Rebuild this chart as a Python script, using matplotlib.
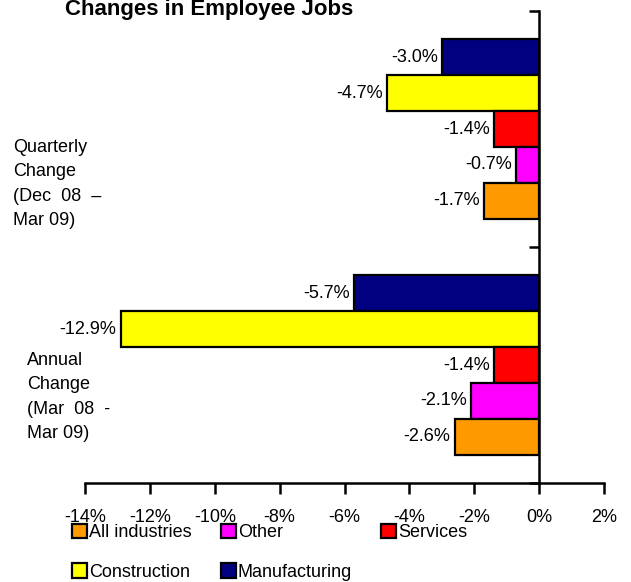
import numpy as np
import matplotlib.pyplot as plt
from matplotlib.patches import Patch

plt.rcParams['font.family'] = ['Liberation Sans', 'DejaVu Sans']

groups = ['Annual\nChange\n(Mar  08  -\nMar 09)', 'Quarterly\nChange\n(Dec  08  \u2013\nMar 09)']
series = ['Manufacturing', 'Construction', 'Services', 'Other', 'All industries']
colors = ['#000080', '#FFFF00', '#FF0000', '#FF00FF', '#FF9900']
# values per series: [annual, quarterly]
values = {
    'Manufacturing': [-5.7, -3.0],
    'Construction': [-12.9, -4.7],
    'Services': [-1.4, -1.4],
    'Other': [-2.1, -0.7],
    'All industries': [-2.6, -1.7],
}
xticks = np.arange(-14, 3, 2)

fig = plt.figure(figsize=(6.31, 5.82), dpi=100)
ax = fig.add_axes([85/631, 1-483/582, 519/631, 472/582])

h = 0.1525
y = np.arange(len(groups))
for i, (s, c) in enumerate(zip(series, colors)):
    off = (2 - i) * h
    ax.barh(y + off, values[s], height=h, color=c, edgecolor='black', linewidth=1.6, label=s)
    for yy, v in zip(y + off, values[s]):
        ax.annotate(f'{v:.1f}%', (v, yy), xytext=(-3, 0), textcoords='offset points',
                    ha='right', va='center', fontsize=13)

ax.set_xlim(-14, 2)
ax.set_ylim(-0.5, 1.5)
ax.set_xticks(xticks)
ax.set_xticklabels([f'{t}%' for t in xticks], fontsize=13)
ax.set_yticks([-0.5, 0.5, 1.5])
ax.set_yticklabels([])
ax.spines['left'].set_position(('data', 0))
ax.spines['right'].set_visible(False)
ax.spines['top'].set_visible(False)
for sp in ['left', 'bottom']:
    ax.spines[sp].set_linewidth(1.8)
ax.tick_params(axis='x', direction='out', length=8, width=1.8, pad=11)
ax.tick_params(axis='y', direction='out', length=7, width=1.8)

fig.text(13/631, 1-184/582, groups[1], ha='left', va='center', fontsize=13, linespacing=1.55)
fig.text(27/631, 1-397/582, groups[0], ha='left', va='center', fontsize=13, linespacing=1.55)

fig.text(65/631, 1-9/582, 'Changes in Employee Jobs', ha='left', va='center',
         fontsize=16, fontweight='bold')

order = ['All industries', 'Construction', 'Other', 'Manufacturing', 'Services']
handles = [Patch(facecolor=colors[series.index(s)], edgecolor='black', linewidth=1.6) for s in order]
fig.legend(handles, order, ncol=3, loc='upper left', bbox_to_anchor=(72/631, 1-524/582),
           frameon=False, fontsize=13, handlelength=0.85, handleheight=0.85,
           handletextpad=0.1, columnspacing=1.6, labelspacing=1.2, borderpad=0,
           borderaxespad=0)

fig.savefig('out.png', dpi=100)
